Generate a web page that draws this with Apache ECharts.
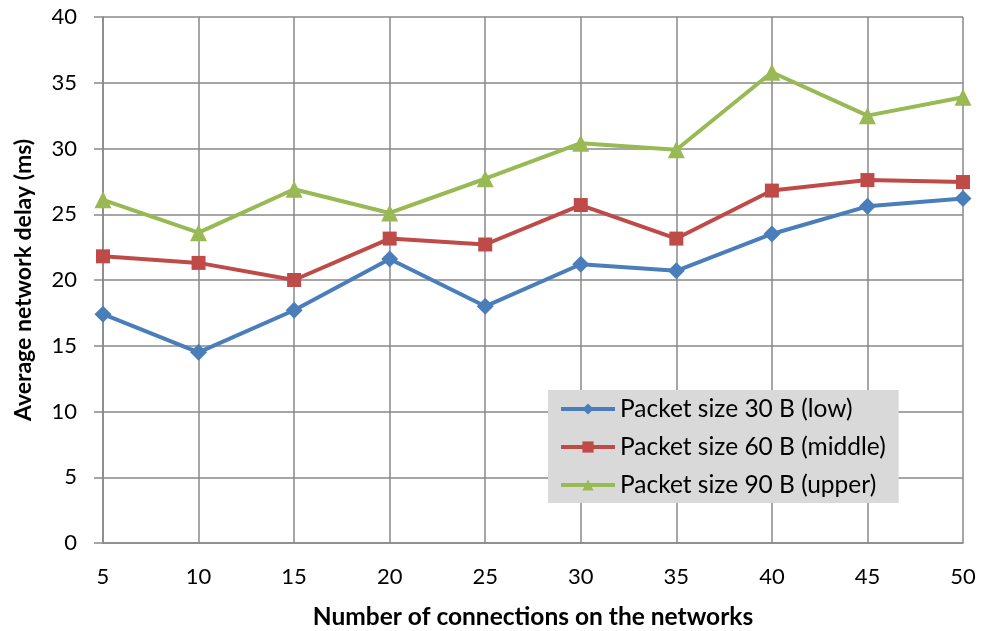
<!DOCTYPE html>
<html><head><meta charset="utf-8">
<script src="https://cdn.jsdelivr.net/npm/echarts@6/dist/echarts.min.js"></script>
<style>html,body{margin:0;padding:0;background:#fff}#c{width:983px;height:631px}</style>
</head><body><div id="c"></div>
<script>
const connections = [5, 10, 15, 20, 25, 30, 35, 40, 45, 50];
const low = [17.4, 14.5, 17.7, 21.6, 18.0, 21.2, 20.7, 23.5, 25.6, 26.2];
const middle = [21.8, 21.3, 20.0, 23.15, 22.7, 25.7, 23.15, 26.8, 27.6, 27.45];
const upper = [26.1, 23.6, 26.9, 25.1, 27.7, 30.4, 29.9, 35.8, 32.5, 33.9];
const seriesNames = ['Packet size 30 B (low)', 'Packet size 60 B (middle)', 'Packet size 90 B (upper)'];
const xTitle = 'Number of connections on the networks';
const yTitle = 'Average network delay (ms)';

const font = 'Lato';
function pairs(vals){ return connections.map((x,i)=>[x, vals[i]]); }
const chart = echarts.init(document.getElementById('c'), null, {renderer:'canvas'});
const mk = (name, data, color, symbol, size) => ({
  name, type:'line', data: pairs(data), symbol, symbolSize:size,
  lineStyle:{color, width:4}, itemStyle:{color}, animation:false
});
chart.setOption({
  animation:false,
  grid:{left:103, right:20, top:17, bottom:88, containLabel:false, outerBoundsMode:'none'},
  xAxis:{type:'value', min:5, max:50, interval:5,
    name:xTitle, nameLocation:'middle', nameGap:62,
    nameTextStyle:{fontFamily:font, fontWeight:'bold', fontSize:24.5, color:'#000'},
    axisLine:{show:true, lineStyle:{color:'#898989', width:1.5}},
    axisTick:{show:false},
    axisLabel:{fontFamily:font, fontSize:22, color:'#000', margin:23},
    splitLine:{show:true, lineStyle:{color:'#898989', width:1.5}}
  },
  yAxis:{type:'value', min:0, max:40, interval:5,
    name:yTitle, nameLocation:'middle', nameGap:68, nameRotate:90,
    nameTextStyle:{fontFamily:font, fontWeight:'bold', fontSize:23, color:'#000'},
    axisLine:{show:true, lineStyle:{color:'#898989', width:1.5}},
    axisTick:{show:true, length:9, lineStyle:{color:'#898989', width:1.5}},
    axisLabel:{fontFamily:font, fontSize:22, color:'#000', margin:26},
    splitLine:{show:true, lineStyle:{color:'#898989', width:1.5}}
  },
  legend:{orient:'vertical', left:548, top:390,
    backgroundColor:'#D9D9D9', padding:[6,13,5,11],
    itemWidth:54, itemHeight:14, itemGap:12,
    lineStyle:{width:4},
    textStyle:{fontFamily:font, fontSize:24.5, lineHeight:26, color:'#000'},
    data:seriesNames
  },
  series:[
    mk(seriesNames[0], low, '#4A7EBB', 'diamond', 17),
    mk(seriesNames[1], middle, '#BE4B48', 'rect', 14),
    mk(seriesNames[2], upper, '#98B954', 'triangle', 17)
  ]
});
</script></body></html>
